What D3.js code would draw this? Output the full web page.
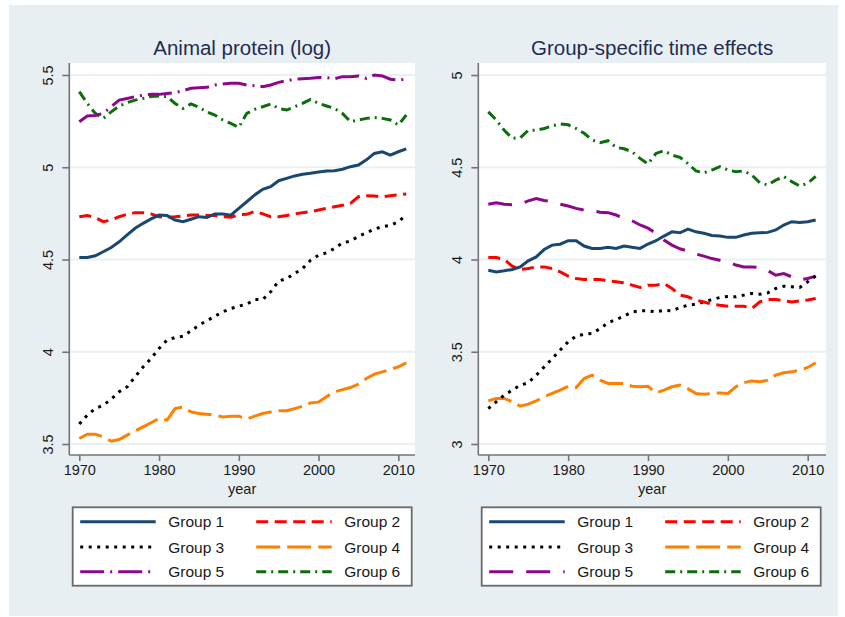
<!DOCTYPE html>
<html>
<head>
<meta charset="utf-8">
<script src="https://cdn.jsdelivr.net/npm/d3@7"></script>
<style>
  body { margin: 0; background: #fff; }
  svg { display: block; font-family: "Liberation Sans", Arial, sans-serif; }
</style>
</head>
<body>
<svg id="chart" width="845" height="617"></svg>
<script>
const years = [1970, 1971, 1972, 1973, 1974, 1975, 1976, 1977, 1978, 1979,
  1980, 1981, 1982, 1983, 1984, 1985, 1986, 1987, 1988, 1989,
  1990, 1991, 1992, 1993, 1994, 1995, 1996, 1997, 1998, 1999,
  2000, 2001, 2002, 2003, 2004, 2005, 2006, 2007, 2008, 2009,
  2010, 2011];

const groupNames = ["Group 1", "Group 2", "Group 3", "Group 4", "Group 5", "Group 6"];
const xTicks = [1970, 1980, 1990, 2000, 2010];
const proteinTicks = [3.5, 4, 4.5, 5, 5.5];
const effectsTicks = [3, 3.5, 4, 4.5, 5];

// left panel: animal protein (log)
const proteinG1 = [4.511, 4.511, 4.52, 4.542, 4.565, 4.596, 4.633, 4.669, 4.696, 4.72,
  4.741, 4.738, 4.714, 4.705, 4.718, 4.732, 4.728, 4.747, 4.747, 4.74,
  4.777, 4.813, 4.85, 4.88, 4.895, 4.927, 4.94, 4.953, 4.962, 4.967,
  4.974, 4.98, 4.981, 4.989, 5.003, 5.012, 5.04, 5.075, 5.084, 5.066,
  5.084, 5.10];
const proteinG2 = [4.732, 4.738, 4.727, 4.705, 4.714, 4.732, 4.745, 4.754, 4.754, 4.747,
  4.732, 4.729, 4.732, 4.736, 4.741, 4.741, 4.739, 4.738, 4.732, 4.729,
  4.743, 4.745, 4.761, 4.747, 4.732, 4.732, 4.738, 4.747, 4.754, 4.759,
  4.768, 4.777, 4.786, 4.794, 4.804, 4.84, 4.846, 4.844, 4.84, 4.846,
  4.851, 4.855];
const proteinG3 = [3.608, 3.656, 3.692, 3.71, 3.743, 3.783, 3.81, 3.864, 3.918, 3.963,
  4.018, 4.063, 4.077, 4.084, 4.113, 4.144, 4.168, 4.193, 4.216, 4.234,
  4.247, 4.258, 4.283, 4.283, 4.325, 4.383, 4.397, 4.424, 4.451, 4.496,
  4.523, 4.536, 4.56, 4.59, 4.60, 4.625, 4.645, 4.665, 4.678, 4.685,
  4.705, 4.74];
const proteinG4 = [3.53, 3.553, 3.553, 3.539, 3.515, 3.524, 3.548, 3.571, 3.593, 3.615,
  3.638, 3.63, 3.692, 3.70, 3.674, 3.665, 3.661, 3.656, 3.647, 3.651,
  3.651, 3.635, 3.651, 3.665, 3.674, 3.68, 3.68, 3.692, 3.705, 3.723,
  3.727, 3.756, 3.783, 3.795, 3.806, 3.824, 3.855, 3.879, 3.891, 3.904,
  3.918, 3.94];
const proteinG5 = [5.247, 5.278, 5.281, 5.292, 5.328, 5.364, 5.373, 5.383, 5.39, 5.395,
  5.395, 5.40, 5.404, 5.415, 5.428, 5.431, 5.433, 5.446, 5.451, 5.455,
  5.455, 5.446, 5.442, 5.437, 5.446, 5.46, 5.469, 5.477, 5.48, 5.482,
  5.487, 5.486, 5.48, 5.491, 5.491, 5.495, 5.482, 5.5, 5.495, 5.477,
  5.473, 5.477];
const proteinG6 = [5.41, 5.346, 5.292, 5.265, 5.30, 5.332, 5.35, 5.364, 5.373, 5.383,
  5.386, 5.383, 5.346, 5.319, 5.343, 5.325, 5.30, 5.283, 5.256, 5.238,
  5.216, 5.292, 5.314, 5.328, 5.343, 5.319, 5.31, 5.328, 5.346, 5.368,
  5.346, 5.332, 5.319, 5.292, 5.247, 5.256, 5.265, 5.27, 5.265, 5.256,
  5.229, 5.283];

// right panel: group-specific time effects
const effectsG1 = [3.942, 3.933, 3.939, 3.946, 3.96, 3.993, 4.014, 4.054, 4.078, 4.083,
  4.102, 4.102, 4.073, 4.06, 4.06, 4.066, 4.06, 4.073, 4.066, 4.06,
  4.084, 4.102, 4.127, 4.15, 4.145, 4.165, 4.15, 4.142, 4.13, 4.127,
  4.12, 4.12, 4.133, 4.142, 4.145, 4.147, 4.16, 4.187, 4.205, 4.20,
  4.205, 4.214];
const effectsG2 = [4.011, 4.011, 4.0, 3.964, 3.946, 3.951, 3.96, 3.96, 3.951, 3.933,
  3.91, 3.897, 3.892, 3.892, 3.892, 3.884, 3.879, 3.874, 3.861, 3.848,
  3.861, 3.861, 3.87, 3.843, 3.807, 3.798, 3.78, 3.77, 3.758, 3.752,
  3.747, 3.747, 3.747, 3.734, 3.77, 3.783, 3.783, 3.776, 3.77, 3.776,
  3.78, 3.789];
const effectsG3 = [3.192, 3.229, 3.265, 3.292, 3.319, 3.332, 3.373, 3.418, 3.463, 3.509,
  3.554, 3.584, 3.595, 3.599, 3.626, 3.657, 3.675, 3.693, 3.716, 3.722,
  3.722, 3.716, 3.725, 3.722, 3.74, 3.752, 3.758, 3.77, 3.783, 3.794,
  3.80, 3.798, 3.807, 3.816, 3.812, 3.819, 3.843, 3.855, 3.852, 3.848,
  3.879, 3.91];
const effectsG4 = [3.234, 3.247, 3.247, 3.229, 3.205, 3.216, 3.234, 3.256, 3.274, 3.292,
  3.313, 3.306, 3.355, 3.373, 3.346, 3.328, 3.328, 3.328, 3.313, 3.31,
  3.313, 3.277, 3.292, 3.31, 3.319, 3.30, 3.274, 3.27, 3.274, 3.277,
  3.274, 3.31, 3.332, 3.342, 3.337, 3.346, 3.373, 3.386, 3.391, 3.40,
  3.415, 3.44];
const effectsG5 = [4.30, 4.308, 4.30, 4.297, 4.30, 4.318, 4.33, 4.32, 4.313, 4.30,
  4.29, 4.277, 4.268, 4.265, 4.256, 4.254, 4.241, 4.223, 4.21, 4.187,
  4.17, 4.142, 4.106, 4.078, 4.058, 4.045, 4.03, 4.018, 4.005, 3.996,
  3.987, 3.97, 3.96, 3.96, 3.957, 3.94, 3.915, 3.924, 3.906, 3.89,
  3.897, 3.91];
const effectsG6 = [4.80, 4.756, 4.70, 4.657, 4.66, 4.70, 4.70, 4.71, 4.724, 4.735,
  4.73, 4.71, 4.684, 4.648, 4.633, 4.644, 4.608, 4.60, 4.584, 4.548,
  4.518, 4.575, 4.59, 4.566, 4.554, 4.52, 4.48, 4.47, 4.485, 4.503,
  4.485, 4.476, 4.48, 4.458, 4.416, 4.404, 4.43, 4.45, 4.422, 4.398,
  4.413, 4.45];

const colors = ["#1a476f", "#ff0000", "#000000", "#ff8000", "#8b088b", "#0b6e0b"];

document.addEventListener("DOMContentLoaded", function() {
  const svg = d3.select("#chart");

  svg.append("rect")
    .attr("x", 9).attr("y", 5)
    .attr("width", 829).attr("height", 611)
    .attr("fill", "#e8eff2");

  drawPanel(svg, {
    left: 69.3, right: 415, top: 63, bottom: 455,
    x0: 79.3, x1: 398.3,
    yDomain: [3.5, 5.5],
    yTicks: proteinTicks,
    title: "Animal protein (log)",
    series: [proteinG1, proteinG2, proteinG3, proteinG4, proteinG5, proteinG6],
    dashes: [null, "12,6.5", "3,5.5", "24,7", "24,6,2,6", "10,5,2,5"]
  });

  drawPanel(svg, {
    left: 478.3, right: 826, top: 63, bottom: 455,
    x0: 488.3, x1: 807.7,
    yDomain: [3, 5],
    yTicks: effectsTicks,
    title: "Group-specific time effects",
    series: [effectsG1, effectsG2, effectsG3, effectsG4, effectsG5, effectsG6],
    dashes: [null, "12,6.5", "3,5.5", "24,7", "24,13", "10,5,2,5"]
  });
});

function drawPanel(svg, p) {
  let x = d3.scaleLinear().domain([1970, 2010]).range([p.x0, p.x1]);
  let y = d3.scaleLinear().domain(p.yDomain).range([444, 75]);
  let mid = (p.left + p.right) / 2;

  svg.append("rect")
    .attr("x", p.left).attr("y", p.top)
    .attr("width", p.right - p.left).attr("height", p.bottom - p.top)
    .attr("fill", "#fff");

  // grid
  svg.append("g")
    .selectAll("line")
    .data(p.yTicks)
    .join("line")
    .attr("x1", p.left).attr("x2", p.right)
    .attr("y1", d => y(d)).attr("y2", d => y(d))
    .attr("stroke", "#eaf1f3")
    .attr("stroke-width", 2);

  svg.append("text")
    .attr("x", mid).attr("y", 55)
    .attr("text-anchor", "middle")
    .attr("font-size", 20.5)
    .attr("fill", "#1f2d52")
    .text(p.title);

  // series
  let line = d3.line()
    .x((d, i) => x(years[i]))
    .y(d => y(d));

  // draw in reverse so group 1 sits on top
  p.series.slice().reverse().forEach((s, k) => {
    let i = p.series.length - 1 - k;
    svg.append("path")
      .datum(s)
      .attr("d", line)
      .attr("fill", "none")
      .attr("stroke", colors[i])
      .attr("stroke-width", 3)
      .attr("stroke-dasharray", p.dashes[i]);
  });

  // y axis
  let yAxis = svg.append("g")
    .attr("transform", `translate(${p.left},0)`)
    .call(d3.axisLeft(y).tickValues(p.yTicks).tickSize(7).tickFormat(d3.format("")));
  yAxis.select(".domain").attr("d", `M0,${p.top}V${p.bottom}`);
  yAxis.selectAll("line, path").attr("stroke", "#747474").attr("stroke-width", 1.6);
  yAxis.selectAll("text")
    .attr("font-size", 14.5)
    .attr("fill", "#1a1a1a")
    .attr("font-family", null)
    .attr("x", null).attr("dy", null)
    .attr("text-anchor", "middle")
    .attr("transform", `translate(-16,0) rotate(-90)`);

  // x axis
  let xAxis = svg.append("g")
    .attr("transform", `translate(0,${p.bottom})`)
    .call(d3.axisBottom(x).tickValues(xTicks).tickSize(6).tickFormat(d3.format("d")));
  xAxis.select(".domain").attr("d", `M${p.left},0H${p.right}`);
  xAxis.selectAll("line, path").attr("stroke", "#747474").attr("stroke-width", 1.6);
  xAxis.selectAll("text")
    .attr("font-size", 14.5)
    .attr("font-family", null)
    .attr("fill", "#1a1a1a")
    .attr("y", 20).attr("dy", null);

  svg.append("text")
    .attr("x", mid).attr("y", 494)
    .attr("text-anchor", "middle")
    .attr("font-size", 14.5)
    .attr("fill", "#1a1a1a")
    .text("year");

  // legend
  let lx = p.left + 3.4;
  let box = svg.append("g");
  box.append("rect")
    .attr("x", lx).attr("y", 507.3)
    .attr("width", 339).attr("height", 78.4)
    .attr("fill", "#fff")
    .attr("stroke", "#6a6a6a")
    .attr("stroke-width", 1.8);

  let rows = [521.7, 547, 571.7];
  groupNames.forEach((name, i) => {
    let col = i % 2;
    let ry = rows[Math.floor(i / 2)];
    let ox = lx + (col ? 183.5 : 7.5);
    box.append("line")
      .attr("x1", ox).attr("x2", ox + 75.5)
      .attr("y1", ry).attr("y2", ry)
      .attr("stroke", colors[i])
      .attr("stroke-width", 3)
      .attr("stroke-dasharray", p.dashes[i]);
    box.append("text")
      .attr("x", ox + 88).attr("y", ry + 5.5)
      .attr("font-size", 15.5)
      .attr("fill", "#1a1a1a")
      .text(name);
  });
}
</script>
</body>
</html>
